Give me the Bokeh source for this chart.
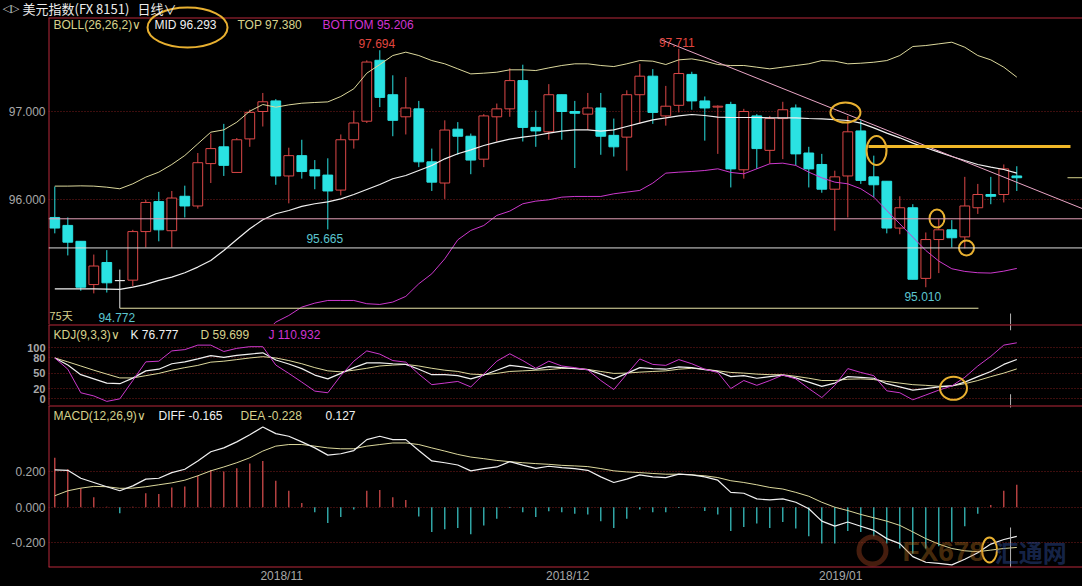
from bokeh.plotting import figure
from bokeh.layouts import column
from bokeh.models import Range1d, FixedTicker, NumeralTickFormatter, Span, Label, ColumnDataSource
from bokeh.core.properties import value
from bokeh.embed import file_html
from bokeh.resources import INLINE

# ------------------------------------------------------------------ data
opens = [95.80, 95.71, 95.53, 95.04, 95.29, 95.085, 95.09, 95.64, 95.98, 95.65,
         96.04, 95.93, 96.41, 96.60, 96.31, 96.69, 97.00, 97.12, 96.27, 96.50,
         96.34, 96.28, 96.11, 96.68, 96.89, 97.58, 97.19, 96.94, 97.03, 96.43,
         96.19, 96.80, 96.72, 96.46, 96.94, 97.03, 97.35, 96.82, 96.77, 97.19,
         97.00, 96.97, 97.04, 96.73, 96.71, 97.19, 97.40, 96.95, 97.07, 97.42,
         97.12, 97.05, 97.08, 96.34, 96.95, 96.56, 96.92, 97.04, 96.53, 96.40,
         96.12, 96.27, 96.78, 96.26, 96.21, 95.68, 95.91, 95.11, 95.55, 95.66,
         95.58, 95.91, 96.06, 96.06, 96.27]
highs = [96.15, 95.80, 95.53, 95.38, 95.43, 95.21, 95.66, 96.00, 96.09, 96.10,
         96.16, 96.53, 96.75, 96.86, 96.70, 97.02, 97.21, 97.14, 96.59, 96.68,
         96.45, 96.47, 96.74, 97.01, 97.58, 97.694, 97.41, 97.39, 97.12, 96.58,
         96.90, 96.88, 96.75, 96.97, 97.09, 97.49, 97.53, 97.01, 97.31, 97.19,
         97.12, 97.21, 97.21, 96.92, 97.24, 97.54, 97.48, 97.29, 97.711, 97.45,
         97.17, 97.07, 97.11, 97.03, 96.97, 96.95, 97.11, 97.08, 96.60, 96.52,
         96.33, 96.95, 96.90, 96.50, 96.21, 96.04, 95.95, 95.63, 95.78, 95.77,
         96.26, 96.18, 96.26, 96.40, 96.38]
lows = [95.62, 95.37, 94.97, 94.94, 94.95, 94.772, 95.02, 95.46, 95.53, 95.46,
        95.80, 95.90, 96.19, 96.27, 96.31, 96.60, 96.83, 96.17, 95.96, 96.24,
        96.12, 95.665, 96.05, 96.58, 96.87, 97.05, 96.72, 96.74, 96.37, 96.10,
        96.01, 96.51, 96.29, 96.37, 96.66, 96.94, 96.66, 96.60, 96.68, 96.68,
        96.36, 96.79, 96.51, 96.49, 96.33, 96.86, 96.86, 96.84, 96.99, 97.02,
        96.67, 96.52, 96.14, 96.24, 96.35, 96.41, 96.46, 96.39, 96.14, 96.08,
        95.65, 95.80, 96.18, 96.03, 95.62, 95.61, 95.10, 95.01, 95.17, 95.46,
        95.45, 95.84, 95.95, 95.97, 96.10]
closes = [95.68, 95.52, 95.01, 95.25, 95.06, 95.085, 95.64, 95.97, 95.66, 96.02,
          95.93, 96.42, 96.58, 96.39, 96.68, 96.99, 97.11, 96.27, 96.50, 96.32,
          96.27, 96.10, 96.68, 96.87, 97.56, 97.16, 96.90, 97.04, 96.43, 96.20,
          96.79, 96.72, 96.45, 96.95, 97.03, 97.35, 96.82, 96.78, 97.19, 97.00,
          96.98, 97.04, 96.72, 96.60, 97.19, 97.40, 96.99, 97.06, 97.43, 97.12,
          97.04, 97.06, 96.35, 97.00, 96.58, 96.92, 97.02, 96.52, 96.35, 96.12,
          96.26, 96.77, 96.22, 96.17, 95.68, 95.91, 95.10, 95.55, 95.66, 95.57,
          95.93, 96.06, 96.04, 96.35, 96.25]

boll_top = [96.155, 96.155, 96.158, 96.155, 96.143, 96.125, 96.181, 96.257, 96.313, 96.400,
            96.502, 96.634, 96.766, 96.792, 96.879, 97.004, 97.079, 97.049, 97.075, 97.094,
            97.102, 97.109, 97.170, 97.257, 97.434, 97.532, 97.634, 97.672, 97.634, 97.577,
            97.540, 97.483, 97.426, 97.434, 97.445, 97.472, 97.472, 97.464, 97.494, 97.521,
            97.540, 97.540, 97.521, 97.509, 97.540, 97.577, 97.570, 97.532, 97.585, 97.596,
            97.570, 97.532, 97.520, 97.521, 97.502, 97.483, 97.502, 97.521, 97.540, 97.577,
            97.570, 97.540, 97.547, 97.558, 97.577, 97.634, 97.736, 97.747, 97.766, 97.785,
            97.728, 97.634, 97.585, 97.502, 97.389]
boll_mid = [94.992, 94.992, 94.992, 94.992, 94.989, 94.985, 95.011, 95.042, 95.087, 95.125,
            95.174, 95.238, 95.313, 95.426, 95.551, 95.672, 95.774, 95.842, 95.879, 95.925,
            95.955, 95.977, 96.011, 96.060, 96.117, 96.174, 96.238, 96.275, 96.332, 96.389,
            96.464, 96.521, 96.566, 96.615, 96.653, 96.687, 96.709, 96.728, 96.755, 96.777,
            96.792, 96.792, 96.777, 96.792, 96.830, 96.868, 96.906, 96.928, 96.951, 96.966,
            96.955, 96.936, 96.932, 96.932, 96.932, 96.928, 96.928, 96.928, 96.921, 96.917,
            96.909, 96.898, 96.868, 96.815, 96.755, 96.702, 96.642, 96.589, 96.540, 96.491,
            96.445, 96.400, 96.370, 96.343, 96.302]
boll_bot = [93.83, 93.83, 93.83, 93.83, 93.84, 93.85, 93.84, 93.83, 93.86, 93.85,
            93.85, 93.84, 93.86, 94.06, 94.22, 94.34, 94.47, 94.615, 94.690, 94.785,
            94.830, 94.860, 94.860, 94.860, 94.823, 94.815, 94.842, 94.906, 95.049, 95.162,
            95.332, 95.547, 95.653, 95.709, 95.823, 95.872, 95.955, 95.985, 96.000, 96.030,
            96.038, 96.038, 96.038, 96.068, 96.087, 96.106, 96.189, 96.302, 96.313, 96.321,
            96.332, 96.351, 96.310, 96.294, 96.351, 96.408, 96.415, 96.389, 96.313, 96.249,
            96.200, 96.181, 96.125, 96.030, 95.879, 95.728, 95.577, 95.426, 95.306, 95.219,
            95.189, 95.174, 95.170, 95.192, 95.223]

kdj_k = [79.9, 66.0, 47.2, 39.0, 30.8, 29.6, 40.5, 54.7, 57.9, 68.6,
         72.3, 78.0, 84.3, 81.0, 84.9, 87.4, 89.9, 76.0, 68.0, 59.0,
         46.5, 39.0, 49.7, 61.0, 70.4, 70.4, 68.6, 67.3, 57.9, 47.2,
         47.2, 45.3, 39.0, 46.5, 56.0, 65.4, 62.3, 57.9, 62.9, 61.0,
         59.1, 57.2, 48.4, 39.0, 49.7, 61.0, 59.1, 57.9, 62.3, 61.0,
         57.2, 53.5, 43.4, 45.3, 40.3, 43.4, 46.5, 40.9, 32.7, 24.5,
         30.8, 43.4, 42.1, 40.3, 29.6, 23.3, 17.0, 20.1, 23.3, 25.2,
         32.7, 43.4, 53.5, 67.3, 76.8]
kdj_d = [79.9, 72.3, 64.2, 56.0, 48.4, 40.9, 40.9, 45.3, 49.7, 56.0,
         61.0, 65.4, 71.7, 73.6, 76.7, 79.9, 82.4, 79.9, 74.8, 68.6,
         61.0, 54.7, 52.8, 56.0, 59.7, 64.2, 66.0, 67.3, 64.2, 59.7,
         56.0, 53.5, 48.4, 47.2, 49.7, 53.5, 54.7, 56.0, 57.2, 59.5,
         59.7, 57.5, 53.5, 49.7, 50.3, 52.2, 53.5, 54.7, 57.9, 59.7,
         57.9, 54.7, 51.6, 50.3, 48.4, 47.2, 47.2, 44.0, 40.3, 35.8,
         35.8, 38.4, 39.0, 37.7, 34.0, 30.8, 27.7, 26.4, 24.5, 25.2,
         29.6, 35.8, 43.4, 50.3, 58.5]
kdj_j = [79.9, 57.9, 11.9, 5.7, -5.0, 0.0, 35.8, 72.3, 73.6, 93.7,
         96.2, 105.0, 105.0, 92.5, 98.7, 101.9, 101.9, 66.0, 49.7, 32.7,
         15.1, 11.9, 45.3, 73.6, 93.7, 87.4, 74.8, 71.7, 48.4, 27.7,
         30.8, 34.0, 23.3, 48.4, 73.6, 88.1, 74.8, 59.7, 73.6, 64.2,
         61.0, 56.6, 35.8, 18.2, 48.4, 78.0, 67.3, 65.4, 76.7, 68.6,
         57.9, 51.6, 20.1, 35.8, 26.4, 35.8, 46.5, 39.0, 20.1, 2.5,
         26.4, 59.1, 51.6, 45.3, 15.7, 11.9, -1.9, 7.5, 17.0, 25.2,
         42.1, 64.2, 83.0, 105.0, 109.5]

macd_hist = [0.280, 0.215, 0.108, 0.056, 0.003, -0.034, 0.002, 0.079, 0.075, 0.112,
             0.118, 0.178, 0.211, 0.202, 0.221, 0.247, 0.262, 0.150, 0.093, 0.024,
             -0.028, -0.090, -0.056, -0.013, 0.093, 0.097, 0.056, 0.041, -0.052, -0.140,
             -0.125, -0.118, -0.153, -0.103, -0.065, -0.004, -0.028, -0.056, -0.023, -0.028,
             -0.037, -0.041, -0.079, -0.118, -0.065, -0.013, -0.028, -0.028, -0.004, -0.002,
             -0.022, -0.041, -0.135, -0.112, -0.093, -0.118, -0.084, -0.121, -0.164, -0.206,
             -0.206, -0.135, -0.140, -0.164, -0.206, -0.234, -0.262, -0.234, -0.221, -0.196,
             -0.108, -0.037, 0.013, 0.093, 0.127]
macd_diff = [0.211, 0.209, 0.164, 0.140, 0.116, 0.093, 0.121, 0.159, 0.164, 0.196,
             0.215, 0.262, 0.314, 0.336, 0.370, 0.411, 0.454, 0.417, 0.402, 0.370,
             0.336, 0.295, 0.303, 0.321, 0.383, 0.402, 0.383, 0.383, 0.321, 0.262,
             0.252, 0.239, 0.206, 0.219, 0.228, 0.258, 0.238, 0.220, 0.232, 0.224,
             0.219, 0.209, 0.172, 0.140, 0.159, 0.183, 0.172, 0.168, 0.187, 0.183,
             0.172, 0.153, 0.084, 0.079, 0.047, 0.041, 0.047, 0.028, -0.009, -0.079,
             -0.107, -0.084, -0.108, -0.131, -0.178, -0.206, -0.280, -0.312, -0.318, -0.327,
             -0.295, -0.258, -0.209, -0.183, -0.165]
macd_dea = [0.065, 0.093, 0.108, 0.118, 0.116, 0.107, 0.108, 0.116, 0.127, 0.138,
            0.153, 0.178, 0.206, 0.228, 0.252, 0.280, 0.318, 0.346, 0.355, 0.355,
            0.346, 0.336, 0.331, 0.331, 0.346, 0.355, 0.364, 0.364, 0.355, 0.336,
            0.318, 0.299, 0.284, 0.275, 0.265, 0.258, 0.252, 0.247, 0.243, 0.237,
            0.234, 0.230, 0.219, 0.206, 0.200, 0.196, 0.191, 0.187, 0.187, 0.183,
            0.178, 0.168, 0.150, 0.140, 0.127, 0.112, 0.103, 0.084, 0.062, 0.028,
            0.000, -0.019, -0.041, -0.060, -0.079, -0.103, -0.140, -0.178, -0.209, -0.234,
            -0.247, -0.252, -0.243, -0.234, -0.228]

month_ticks = [17.45, 39.45, 60.45]
month_labels = ["2018/11", "2018/12", "2019/01"]
price_ticks = [96.0, 97.0]
kdj_ticks = [0, 20, 50, 80, 100]
macd_ticks = [-0.2, 0.0, 0.2]

# reference levels / annotations (data coordinates)
support_pink = 95.785
support_white = 95.455
low_75 = 94.772
low_75_span = [5, 71.05]
trend_x = [46.6, 79.05]
trend_y = [97.815, 95.90]
resist_level = 96.604
resist_x = [62.59, 78.13]
last_mark_x = [77.9, 79.05]
cursor_x = 73.52

N = len(closes)
for arr in (opens, highs, lows, boll_top, boll_mid, boll_bot, kdj_k, kdj_d, kdj_j,
            macd_hist, macd_diff, macd_dea):
    assert len(arr) == N, len(arr)
idx = list(range(N))

# ------------------------------------------------------------------ style
BG = "#000000"
BORDER = "#b8283a"
GRID = "#7a1c1c"
UP = "#dc4848"
DN = "#2ae2e2"
FLAT = "#e8e8e8"
KHAKI = "#d7d28c"
WHITE = "#f0f0f0"
MAGENTA = "#cc38cc"
GOLD = "#e8b030"
AXIS_TXT = "#a8a8a8"
CURSOR = "#b4b4b4"
NUMFONT = "Liberation Sans"
CJK = "Noto Sans CJK SC"

W = 1082
XR = Range1d(-0.4846, 79.054)


def style_axis(ax, size="12px", bold=False, standoff=3):
    ax.axis_line_color = None
    ax.major_tick_line_color = None
    ax.minor_tick_line_color = None
    ax.major_tick_out = 0
    ax.major_tick_in = 0
    ax.minor_tick_out = 0
    ax.minor_tick_in = 0
    ax.major_label_text_color = AXIS_TXT
    ax.major_label_text_font = NUMFONT
    ax.major_label_text_font_size = size
    ax.major_label_text_font_style = "bold" if bold else "normal"
    ax.major_label_standoff = standoff


def make_fig(h, yr, top, bottom, ticks, fmt, xaxis=False, size="12px", bold=False):
    p = figure(width=W, height=h, x_range=XR, y_range=yr, output_backend="svg",
               toolbar_location=None, x_axis_location="below" if xaxis else None,
               background_fill_color=BG, border_fill_color=BG, outline_line_color=None,
               min_border_left=48, min_border_right=0, min_border_top=top,
               min_border_bottom=bottom)
    ax = p.yaxis[0]
    ax.ticker = FixedTicker(ticks=ticks)
    ax.formatter = NumeralTickFormatter(format=fmt)
    style_axis(ax, size, bold)
    p.xgrid.visible = False
    p.ygrid.ticker = FixedTicker(ticks=ticks)
    p.ygrid.grid_line_color = GRID
    p.ygrid.grid_line_dash = "1 2"
    p.ygrid.grid_line_width = 1
    # panel borders (left + top)
    p.add_layout(Span(location=XR.start, dimension="height", line_color=BORDER, line_width=2))
    p.add_layout(Span(location=yr.end, dimension="width", line_color=BORDER, line_width=2))
    return p


def lab(p, x, y, text, color, dx=0, dy=0, size="12px", font=NUMFONT, align="left",
        baseline="middle", style="normal", alpha=1.0):
    p.add_layout(Label(x=x, y=y, x_offset=dx, y_offset=dy, text=text, text_color=color,
                       text_font=font, text_font_size=size, text_align=align,
                       text_baseline=baseline, text_font_style=style, text_alpha=alpha))


def free_text(p, x, y, text, color, dx, dy, size="12px", font=NUMFONT):
    # glyph text on the overlay level so it can sit in the border area
    r = p.text(x=[x], y=[y], text=[text], x_offset=dx, y_offset=dy, text_color=color,
               text_font=value(font), text_font_size=size, text_baseline="middle",
               text_align="left")
    r.level = "overlay"


# ------------------------------------------------------------------ main (BOLL) panel
y1 = Range1d(94.5878, 98.0646)
p1 = make_fig(324, y1, 17, 0, price_ticks, "0.000")

color = [UP if c > o else (DN if c < o else FLAT) for o, c in zip(opens, closes)]
fill = [BG if c > o else col for o, c, col in zip(opens, closes, color)]
src = ColumnDataSource(dict(x=idx, h=highs, l=lows,
                            top=[max(o, c) for o, c in zip(opens, closes)],
                            bot=[min(o, c) for o, c in zip(opens, closes)],
                            col=color, fill=fill))
p1.segment(x0="x", y0="h", x1="x", y1="l", line_color="col", line_width=1, source=src)
p1.vbar(x="x", width=0.75, top="top", bottom="bot", fill_color="fill", line_color="col",
        line_width=1, source=src)

p1.line(idx, boll_top, line_color="#dcd89c", line_width=1)
p1.line(idx, boll_mid, line_color=WHITE, line_width=1.2)
p1.line(idx, boll_bot, line_color=MAGENTA, line_width=1)

p1.add_layout(Span(location=support_pink, dimension="width", line_color="#e4a0b8", line_width=1))
p1.add_layout(Span(location=support_white, dimension="width", line_color="#dcdcdc", line_width=1))
p1.segment(x0=[low_75_span[0]], y0=[low_75], x1=[low_75_span[1]], y1=[low_75],
           line_color="#e8e4a8", line_width=1)
p1.line(trend_x, trend_y, line_color="#eaa6c6", line_width=1)
p1.line(resist_x, [resist_level, resist_level], line_color="#f0b828", line_width=3)
p1.line(last_mark_x, [closes[-1], closes[-1]], line_color=KHAKI, line_width=1)
p1.segment(x0=[cursor_x], y0=[94.712], x1=[cursor_x], y1=[y1.start], line_color=CURSOR, line_width=1)

p1.ellipse(x=[60.82, 63.21, 67.86, 70.13], y=[96.989, 96.558, 95.788, 95.454],
           width=[30, 20, 15, 15], height=[20, 29, 18, 15], width_units="screen",
           height_units="screen", fill_color=None, line_color=GOLD, line_width=2)
mid_ell = p1.ellipse(x=[10.21], y=[97.951], width=[80], height=[40], width_units="screen",
                     height_units="screen", fill_color=None, line_color=GOLD, line_width=2)
mid_ell.level = "overlay"

# extreme value labels
imax = highs.index(max(highs[:40]))
lab(p1, imax, highs[imax], f"{highs[imax]:.3f}", "#e0463f", dx=-3, dy=2, align="center", baseline="bottom")
imax2 = highs.index(max(highs))
lab(p1, imax2, highs[imax2], f"{highs[imax2]:.3f}", "#e0463f", dx=-2, dy=2, align="center", baseline="bottom")
for i in (lows.index(min(lows[15:40])), lows.index(min(lows[50:])), lows.index(min(lows))):
    lab(p1, i, lows[i], f"{lows[i]:.3f}", "#5cc6d0", dx=-3, dy=-9, align="center", baseline="middle")
lab(p1, XR.start, low_75, "75天", KHAKI, dx=1, dy=-7, size="11px", font=CJK, baseline="middle")

# header + indicator title
free_text(p1, XR.start, y1.end, "◁▷", "#c8c8c8", -46, -9, size="11px", font="DejaVu Sans")
free_text(p1, XR.start, y1.end, "美元指数(FX 8151)", "#ececec", -26, -9, size="13px", font=CJK)
free_text(p1, XR.start, y1.end, "日线∨", "#ececec", 89, -9, size="13px", font=CJK)
lab(p1, XR.start, y1.end, "BOLL(26,26,2)∨", KHAKI, dx=5, dy=-7)
lab(p1, XR.start, y1.end, "MID 96.293", WHITE, dx=106, dy=-7)
lab(p1, XR.start, y1.end, "TOP 97.380", KHAKI, dx=189, dy=-7)
lab(p1, XR.start, y1.end, "BOTTOM 95.206", "#d034d0", dx=274, dy=-7)

# ------------------------------------------------------------------ KDJ panel
y2 = Range1d(-13.0, 145.28)
p2 = make_fig(81, y2, 0, 0, kdj_ticks, "0", size="11px", bold=True)
p2.line(idx, kdj_d, line_color="#dcd89c", line_width=1)
p2.line(idx, kdj_k, line_color=WHITE, line_width=1.2)
p2.line(idx, kdj_j, line_color=MAGENTA, line_width=1)
p2.segment(x0=[cursor_x, cursor_x], y0=[y2.end, 9.0], x1=[cursor_x, cursor_x],
           y1=[134.0, y2.start], line_color=CURSOR, line_width=1)
p2.ellipse(x=[69.13], y=[20.5], width=[27], height=[23], width_units="screen",
           height_units="screen", fill_color=None, line_color=GOLD, line_width=2)
lab(p2, XR.start, y2.end, "KDJ(9,3,3)∨", KHAKI, dx=5, dy=-10)
lab(p2, XR.start, y2.end, "K 76.777", WHITE, dx=82, dy=-10)
lab(p2, XR.start, y2.end, "D 59.699", KHAKI, dx=152, dy=-10)
lab(p2, XR.start, y2.end, "J 110.932", "#d034d0", dx=220, dy=-10)

# ------------------------------------------------------------------ MACD panel
y3 = Range1d(-0.3416, 0.5762)
p3 = make_fig(181, y3, 0, 19, macd_ticks, "0.000", xaxis=True)
hcol = ["#e05050" if v >= 0 else "#3ccccc" for v in macd_hist]
p3.segment(x0=idx, y0=[0.0] * N, x1=idx, y1=macd_hist, line_color=hcol, line_width=1.2)
p3.line(idx, macd_dea, line_color="#dcd89c", line_width=1)
p3.line(idx, macd_diff, line_color=WHITE, line_width=1.2)
p3.segment(x0=[cursor_x, cursor_x], y0=[y3.end, -0.115], x1=[cursor_x, cursor_x],
           y1=[0.565, y3.start], line_color=CURSOR, line_width=1)
p3.ellipse(x=[71.9], y=[-0.2425], width=[15], height=[25], width_units="screen",
           height_units="screen", fill_color=None, line_color=GOLD, line_width=2)
p3.add_layout(Span(location=y3.start, dimension="width", line_color=BORDER, line_width=2))
lab(p3, XR.start, y3.end, "MACD(12,26,9)∨", KHAKI, dx=5, dy=-10)
lab(p3, XR.start, y3.end, "DIFF -0.165", WHITE, dx=110, dy=-10)
lab(p3, XR.start, y3.end, "DEA -0.228", KHAKI, dx=192, dy=-10)
lab(p3, XR.start, y3.end, "0.127", WHITE, dx=277, dy=-10)

# watermark
p3.scatter(x=[62.9], y=[-0.245], marker="circle", size=27, fill_color=None,
           line_color="#8a3a1c", line_width=5, line_alpha=0.5)
lab(p3, 65.2, -0.25, "FX678", "#b8701e", size="28px", style="bold", alpha=0.4)
lab(p3, 72.3, -0.25, "汇通网", "#3050a0", size="24px", font=CJK, style="bold", alpha=0.45)

xa = p3.xaxis[0]
xa.ticker = FixedTicker(ticks=month_ticks)
xa.major_label_overrides = {t: s for t, s in zip(month_ticks, month_labels)}
style_axis(xa, standoff=1)

layout = column(p1, p2, p3, spacing=0, styles={"background-color": BG})

html = file_html(layout, INLINE)
html = html.replace("<body>", '<body style="background-color:#000000;">', 1)
open("out.html", "w").write(html)
